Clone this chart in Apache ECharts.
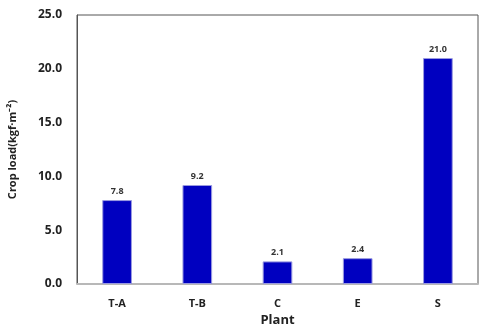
<!DOCTYPE html>
<html><head><meta charset="utf-8">
<script src="https://cdn.jsdelivr.net/npm/echarts@6/dist/echarts.min.js"></script>
<style>html,body{margin:0;padding:0;background:#fff}#c{width:489px;height:331px}</style>
</head><body><div id="c"></div>
<script>
var categories = ['T-A', 'T-B', 'C', 'E', 'S'];
var values = [7.8, 9.2, 2.1, 2.4, 21.0];
var yTicks = [0, 5, 10, 15, 20, 25];

var chart = echarts.init(document.getElementById('c'));
chart.setOption({
  animation: false,
  grid: { left: 77, right: 11, top: 15, bottom: 47, show: true, borderColor: '#555', borderWidth: 1,
    containLabel: false, outerBoundsMode: 'none' },
  xAxis: {
    type: 'category', data: categories,
    name: 'Plant', nameLocation: 'middle', nameGap: 29,
    nameTextStyle: { fontFamily: 'Open Sans', fontWeight: 'bold', fontSize: 13, color: '#222' },
    axisLine: { lineStyle: { color: '#b8b8b8', width: 2 } },
    axisTick: { show: false },
    axisLabel: { margin: 14, fontFamily: 'Open Sans', fontWeight: 'bold', fontSize: 11, color: '#222' }
  },
  yAxis: {
    type: 'value', min: yTicks[0], max: yTicks[yTicks.length - 1], interval: 5,
    name: 'Crop load(kgf·m⁻²)', nameLocation: 'middle', nameGap: 59, nameRotate: 90,
    nameTextStyle: { fontFamily: 'Open Sans', fontWeight: 'bold', fontSize: 11, color: '#222' },
    axisLine: { show: true, lineStyle: { color: '#555' } },
    axisTick: { show: false },
    splitLine: { show: false },
    axisLabel: { margin: 15, fontFamily: 'Open Sans', fontWeight: 'bold', fontSize: 12, color: '#222',
      formatter: function (v) { return v.toFixed(1); } }
  },
  series: [{
    type: 'bar', data: values, barWidth: '37%',
    itemStyle: { color: '#0000c0', borderColor: '#9a9ae0', borderWidth: 1 },
    label: { show: true, position: 'top', distance: 4, fontFamily: 'Open Sans', fontWeight: 'bold', fontSize: 9, color: '#333',
      formatter: function (p) { return p.value.toFixed(1); } }
  }]
});
</script></body></html>
